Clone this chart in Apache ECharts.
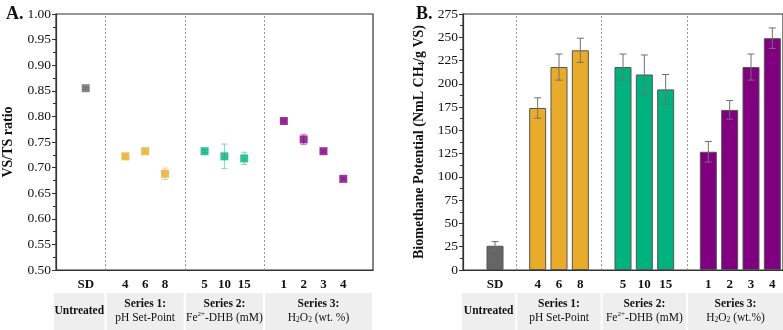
<!DOCTYPE html>
<html>
<head>
<meta charset="utf-8">
<script src="https://cdn.jsdelivr.net/npm/echarts/dist/echarts.min.js"></script>
<style>
html,body{margin:0;padding:0;background:#fff;}
#main{width:783px;height:330px;}
</style>
</head>
<body>
<div id="main"></div>
<script>
// levels of each group (x tick labels)
var sdLevels = ['SD'];
var phLevels = ['4', '6', '8'];
var feLevels = ['5', '10', '15'];
var h2o2Levels = ['1', '2', '3', '4'];

// panel A: VS/TS ratio
var sdRatio = [0.855], sdRatioErr = [0.002];
var phRatio = [0.722, 0.732, 0.688], phRatioErr = [0.003, 0.003, 0.011];
var feRatio = [0.732, 0.722, 0.718], feRatioErr = [0.003, 0.024, 0.012];
var h2o2Ratio = [0.791, 0.755, 0.732, 0.678], h2o2RatioErr = [0.002, 0.010, 0.002, 0.002];

// panel B: biomethane potential
var sdBmp = [26], sdBmpErr = [4.5];
var phBmp = [174, 218, 236], phBmpErr = [11, 14, 13];
var feBmp = [218, 210, 194], feBmpErr = [14, 21, 16];
var h2o2Bmp = [127, 172, 218, 249], h2o2BmpErr = [11, 10, 14, 11];

// table under the axes
var groupTitles = ['Untreated', 'Series 1:', 'Series 2:', 'Series 3:'];
var groupSubsA = ['', '{r|pH Set-Point}', '{r|Fe}{sup|2+}{r|-DHB (mM)}', '{r|H}{sub|2}{r|O}{sub|2}{r| (wt. %)}'];
var groupSubsB = ['', '{r|pH Set-Point}', '{r|Fe}{sup|2+}{r|-DHB (mM)}', '{r|H}{sub|2}{r|O}{sub|2}{r| (wt.%)}'];

var colors = ['#666666', '#E8AC2A', '#00B37E', '#800080'];
var errColorsA = ['#9a9a9a', '#f0cf86', '#7fd8bd', '#c27fc2'];
var serif = '"Liberation Serif", "Times New Roman", serif';

// category layout: empty slot between groups
var offSD = 1;
var offPH = offSD + sdLevels.length + 1;
var offFE = offPH + phLevels.length + 1;
var offH = offFE + feLevels.length + 1;
var catsA = [''].concat(sdLevels, [''], phLevels, [''], feLevels, [''], h2o2Levels, ['']);
var catsB = catsA.slice(0, catsA.length - 1);
var seps = [offPH - 1, offFE - 1, offH - 1];

function pts(off, vals) {
	return vals.map(function (v, i) { return [off + i, v]; });
}
function errPts(off, vals, errs) {
	return vals.map(function (v, i) { return [off + i, v, errs[i]]; });
}
function errRender(capW, color) {
	return function (params, api) {
		var x = api.value(0), v = api.value(1), e = api.value(2);
		if (!e) return null;
		var hi = api.coord([x, v + e]), lo = api.coord([x, v - e]);
		var st = { stroke: color, lineWidth: 1 };
		return {
			type: 'group', children: [
				{ type: 'line', shape: { x1: hi[0], y1: hi[1], x2: lo[0], y2: lo[1] }, style: st },
				{ type: 'line', shape: { x1: hi[0] - capW, y1: hi[1], x2: hi[0] + capW, y2: hi[1] }, style: st },
				{ type: 'line', shape: { x1: lo[0] - capW, y1: lo[1], x2: lo[0] + capW, y2: lo[1] }, style: st }
			]
		};
	};
}

var sepLine = {
	silent: true, symbol: 'none', label: { show: false },
	lineStyle: { color: '#9a9a9a', type: [2, 2], width: 1 },
	data: seps.map(function (s) { return { xAxis: s }; })
};

var offs = [offSD, offPH, offFE, offH];
var ratioVals = [sdRatio, phRatio, feRatio, h2o2Ratio];
var ratioErrs = [sdRatioErr, phRatioErr, feRatioErr, h2o2RatioErr];
var bmpVals = [sdBmp, phBmp, feBmp, h2o2Bmp];
var bmpErrs = [sdBmpErr, phBmpErr, feBmpErr, h2o2BmpErr];

var series = [];
for (var g = 0; g < 4; g++) {
	series.push({
		type: 'custom', xAxisIndex: 0, yAxisIndex: 0, z: 3,
		renderItem: errRender(3, errColorsA[g]),
		encode: { x: 0, y: 1 },
		data: errPts(offs[g], ratioVals[g], ratioErrs[g])
	});
	series.push({
		type: 'scatter', xAxisIndex: 0, yAxisIndex: 0, z: 4,
		symbol: 'rect', symbolSize: 8,
		itemStyle: { color: colors[g] },
		data: pts(offs[g], ratioVals[g]),
		markLine: g === 0 ? sepLine : undefined
	});
	series.push({
		type: 'bar', xAxisIndex: 1, yAxisIndex: 1, stack: 'bmp',
		barWidth: 17,
		itemStyle: { color: colors[g], borderColor: '#555', borderWidth: 1 },
		data: pts(offs[g], bmpVals[g]),
		markLine: g === 0 ? sepLine : undefined
	});
	series.push({
		type: 'custom', xAxisIndex: 1, yAxisIndex: 1, z: 5,
		renderItem: errRender(3.5, '#707070'),
		encode: { x: 0, y: 1 },
		data: errPts(offs[g], bmpVals[g], bmpErrs[g])
	});
}

var axisLine = { lineStyle: { color: '#333', width: 1.2 } };
function xAxis(idx, cats) {
	return {
		type: 'category', gridIndex: idx, data: cats, boundaryGap: true,
		axisLine: axisLine,
		axisTick: { alignWithLabel: true, interval: 0, length: 4, lineStyle: { color: '#333' } },
		axisLabel: { interval: 0, margin: 8, color: '#111', fontFamily: serif, fontWeight: 'bold', fontSize: 13 },
		splitLine: { show: false }
	};
}

var chart = echarts.init(document.getElementById('main'));
chart.setOption({
	animation: false,
	backgroundColor: '#fff',
	title: [
		{ text: 'A.', left: 1, top: 0, textStyle: { fontFamily: serif, fontWeight: 'bold', fontSize: 18, color: '#111' } },
		{ text: 'B.', left: 411, top: 0, textStyle: { fontFamily: serif, fontWeight: 'bold', fontSize: 18, color: '#111' } }
	],
	grid: [
		{ left: 55, top: 14, width: 318, height: 256, show: true, borderColor: '#333', borderWidth: 1.2 },
		{ left: 463, top: 14, width: 320, height: 256, show: true, borderColor: '#333', borderWidth: 1.2 }
	],
	xAxis: [xAxis(0, catsA), xAxis(1, catsB)],
	yAxis: [
		{
			type: 'value', gridIndex: 0, min: 0.5, max: 1.0, interval: 0.05,
			name: 'VS/TS ratio', nameLocation: 'middle', nameGap: 41,
			nameTextStyle: { fontFamily: serif, fontWeight: 'bold', fontSize: 14, color: '#111' },
			axisLine: { show: true, lineStyle: { color: '#333', width: 1.2 } },
			axisTick: { show: true, length: 4, lineStyle: { color: '#333' } },
			minorTick: { show: true, splitNumber: 2, length: 3, lineStyle: { color: '#333' } },
			axisLabel: { margin: 5, color: '#111', fontFamily: serif, fontSize: 13.5, formatter: function (v) { return v.toFixed(2); } },
			splitLine: { show: false }
		},
		{
			type: 'value', gridIndex: 1, min: 0, max: 275, interval: 25,
			name: 'Biomethane Potential (NmL CH{s|4}/g VS)', nameLocation: 'middle', nameGap: 37,
			nameTextStyle: {
				fontFamily: serif, fontWeight: 'bold', fontSize: 14, color: '#111', lineHeight: 14,
				rich: { s: { fontFamily: serif, fontWeight: 'bold', fontSize: 9, color: '#111', verticalAlign: 'bottom', lineHeight: 9 } }
			},
			axisLine: { show: true, lineStyle: { color: '#333', width: 1.2 } },
			axisTick: { show: true, length: 4, lineStyle: { color: '#333' } },
			minorTick: { show: true, splitNumber: 2, length: 3, lineStyle: { color: '#333' } },
			axisLabel: { margin: 5, color: '#111', fontFamily: serif, fontSize: 13.5 },
			splitLine: { show: false }
		}
	],
	series: series
});

// grey label boxes under each group, placed from the separator positions
function tableGraphics(axisIdx, left, right, subs) {
	var edges = [left];
	seps.forEach(function (s) { edges.push(chart.convertToPixel({ xAxisIndex: axisIdx }, s)); });
	edges.push(right);
	var out = [];
	var rich = {
		b: { fontFamily: serif, fontWeight: 'bold', fontSize: 11.5, fill: '#111', lineHeight: 13 },
		r: { fontFamily: serif, fontSize: 11.5, fill: '#111', lineHeight: 13 },
		sub: { fontFamily: serif, fontSize: 7.5, fill: '#111', verticalAlign: 'bottom', lineHeight: 8 },
		sup: { fontFamily: serif, fontSize: 7, fill: '#111', verticalAlign: 'top', lineHeight: 8 }
	};
	for (var i = 0; i < 4; i++) {
		var x0 = edges[i] + 1, x1 = edges[i + 1] - 1;
		out.push({ type: 'rect', silent: true, shape: { x: x0, y: 293, width: x1 - x0, height: 37 }, style: { fill: '#eeeeee' } });
		var txt = '{b|' + groupTitles[i] + '}' + (subs[i] ? '\n' + subs[i] : '');
		out.push({
			type: 'text', silent: true, x: (x0 + x1) / 2, y: 311,
			style: { text: txt, rich: rich, align: 'center', verticalAlign: 'middle' }
		});
	}
	return out;
}
chart.setOption({
	graphic: tableGraphics(0, 53, 373, groupSubsA).concat(tableGraphics(1, 461, 784, groupSubsB))
});
</script>
</body>
</html>
